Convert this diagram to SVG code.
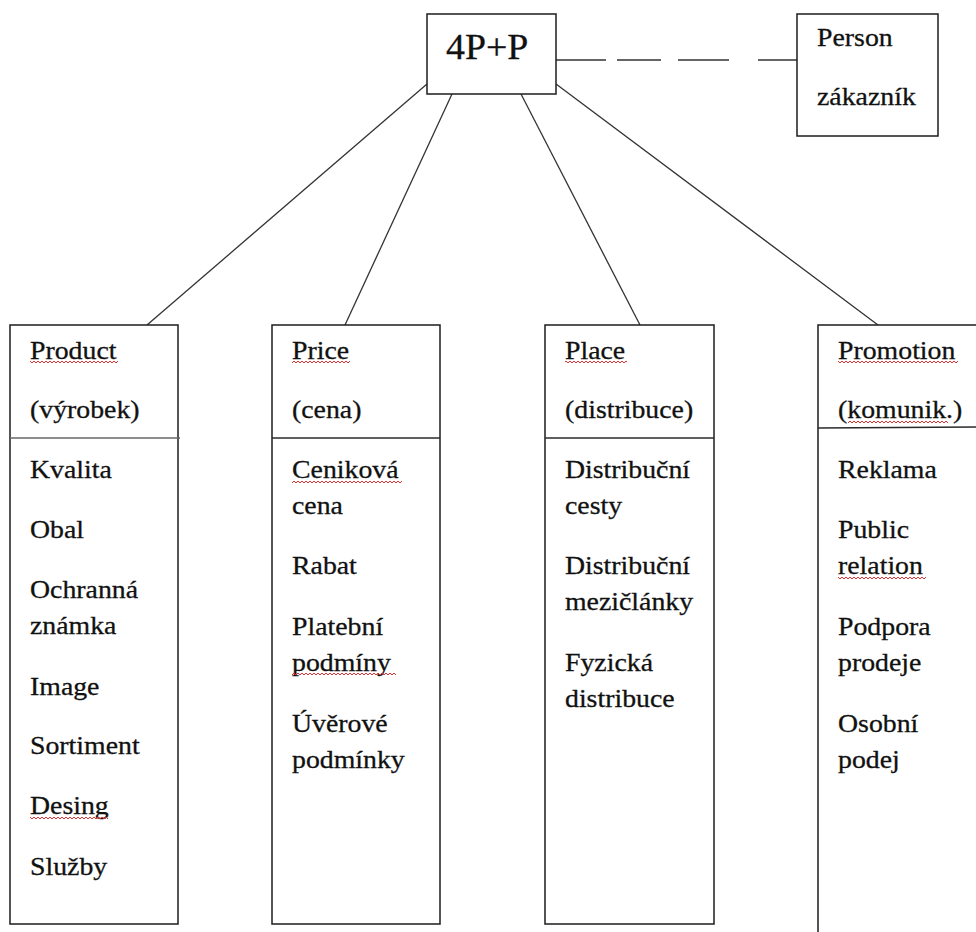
<svg xmlns="http://www.w3.org/2000/svg" width="976" height="932" viewBox="0 0 976 932">
<style>
.box{fill:#fff;stroke:#1c1c1c;stroke-width:1.5}
text{font-family:'Liberation Serif','Times New Roman',serif;font-size:26px;fill:#111;stroke:#111;stroke-width:0.3}
.big{font-size:36px}
.conn{stroke:#333;stroke-width:1.3;fill:none}
.div{stroke:#2a2a2a;stroke-width:1.5}
.divl{stroke:#666;stroke-width:1.5}
.sq{fill:url(#wavy)}
</style>
<defs>
<pattern id="wavy" x="0" y="0" width="4" height="4" patternUnits="userSpaceOnUse">
<path d="M0 3 L2 1 L4 3" stroke="#e23030" stroke-width="1" fill="none"/>
</pattern>
</defs>
<rect width="976" height="932" fill="#fff"/>

<g id="connectors">
<line class="conn" x1="427" y1="84" x2="147" y2="325"/>
<line class="conn" x1="452" y1="94" x2="345" y2="325"/>
<line class="conn" x1="521" y1="94" x2="640" y2="325"/>
<line class="conn" x1="556" y1="84" x2="878" y2="325"/>
<line class="conn" x1="556" y1="60" x2="797" y2="60" stroke-dasharray="50 11 44 17 51 29 39"/>
</g>

<g id="node-4pp">
<rect class="box" x="427" y="14" width="129" height="80"/>
<g transform="translate(446,0) scale(1.05,1)"><text class="big" x="0" y="59">4P+P</text></g>
</g>

<g id="node-person">
<rect class="box" x="797" y="14" width="141" height="122"/>
<g transform="translate(817,0) scale(1.07,1)">
<text x="0" y="46">Person</text>
<text x="0" y="105">zákazník</text>
</g>
</g>

<g id="node-product">
<rect class="box" x="10" y="325" width="168" height="599"/>
<line class="divl" x1="10" y1="438" x2="180" y2="438"/>
<g transform="translate(30,0) scale(1.07,1)">
<text x="0" y="359">Product</text>
<text x="0" y="418">(výrobek)</text>
<text x="0" y="478">Kvalita</text>
<text x="0" y="538">Obal</text>
<text x="0" y="598">Ochranná</text>
<text x="0" y="634">známka</text>
<text x="0" y="695">Image</text>
<text x="0" y="754">Sortiment</text>
<text x="0" y="814">Desing</text>
<text x="0" y="875">Služby</text>
</g>
<rect class="sq" x="30" y="360" width="88" height="4"/>
<rect class="sq" x="30" y="816" width="78" height="4"/>
</g>

<g id="node-price">
<rect class="box" x="272" y="325" width="168" height="599"/>
<line class="div" x1="272" y1="438" x2="440" y2="438"/>
<g transform="translate(292,0) scale(1.07,1)">
<text x="0" y="359">Price</text>
<text x="0" y="418">(cena)</text>
<text x="0" y="478">Ceniková</text>
<text x="0" y="514">cena</text>
<text x="0" y="574">Rabat</text>
<text x="0" y="635">Platební</text>
<text x="0" y="671">podmíny</text>
<text x="0" y="732">Úvěrové</text>
<text x="0" y="768">podmínky</text>
</g>
<rect class="sq" x="292" y="360" width="58" height="4"/>
<rect class="sq" x="292" y="480" width="110" height="4"/>
<rect class="sq" x="292" y="672" width="104" height="4"/>
</g>

<g id="node-place">
<rect class="box" x="545" y="325" width="169" height="599"/>
<line class="div" x1="545" y1="438" x2="714" y2="438"/>
<g transform="translate(565,0) scale(1.07,1)">
<text x="0" y="359">Place</text>
<text x="0" y="418">(distribuce)</text>
<text x="0" y="478">Distribuční</text>
<text x="0" y="514">cesty</text>
<text x="0" y="574">Distribuční</text>
<text x="0" y="610">mezičlánky</text>
<text x="0" y="671">Fyzická</text>
<text x="0" y="707">distribuce</text>
</g>
<rect class="sq" x="565" y="360" width="62" height="4"/>
</g>

<g id="node-promotion">
<rect class="box" x="818" y="325" width="200" height="700"/>
<line class="div" x1="818" y1="428" x2="976" y2="427"/>
<g transform="translate(838,0) scale(1.07,1)">
<text x="0" y="359">Promotion</text>
<text x="0" y="418">(komunik.)</text>
<text x="0" y="478">Reklama</text>
<text x="0" y="538">Public</text>
<text x="0" y="574">relation</text>
<text x="0" y="635">Podpora</text>
<text x="0" y="671">prodeje</text>
<text x="0" y="732">Osobní</text>
<text x="0" y="768">podej</text>
</g>
<rect class="sq" x="838" y="360" width="120" height="4"/>
<rect class="sq" x="848" y="420" width="100" height="4"/>
<rect class="sq" x="838" y="576" width="88" height="4"/>
</g>
</svg>
